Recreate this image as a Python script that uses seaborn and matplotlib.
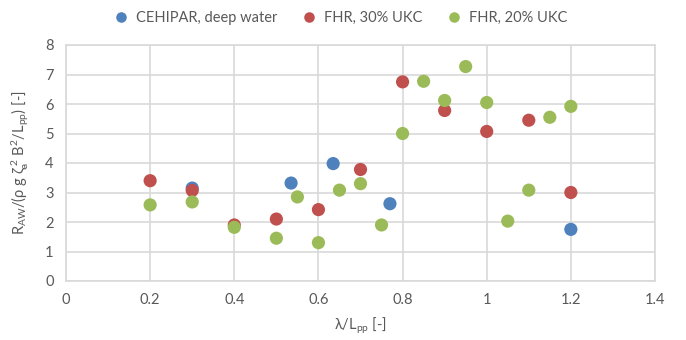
import pandas as pd
import matplotlib.pyplot as plt
import seaborn as sns

# 数据
cehipar_x = [0.3, 0.535, 0.635, 0.77, 1.2]
cehipar_y = [3.15, 3.32, 3.98, 2.62, 1.75]

fhr30_x = [0.2, 0.3, 0.4, 0.5, 0.6, 0.7, 0.8, 0.9, 1.0, 1.1, 1.2]
fhr30_y = [3.4, 3.07, 1.9, 2.1, 2.42, 3.78, 6.75, 5.78, 5.07, 5.45, 3.0]

fhr20_x = [0.2, 0.3, 0.4, 0.5, 0.55, 0.6, 0.65, 0.7, 0.75, 0.8, 0.85, 0.9,
           0.95, 1.0, 1.05, 1.1, 1.15, 1.2]
fhr20_y = [2.58, 2.68, 1.82, 1.45, 2.85, 1.3, 3.08, 3.3, 1.9, 5.0, 6.77, 6.12,
           7.27, 6.05, 2.03, 3.08, 5.55, 5.92]

series_names = ['CEHIPAR, deep water', 'FHR, 30% UKC', 'FHR, 20% UKC']
colors = ['#4F81BD', '#C0504D', '#9BBB59']
x_ticks = [0, 0.2, 0.4, 0.6, 0.8, 1, 1.2, 1.4]
x_tick_labels = ['0', '0.2', '0.4', '0.6', '0.8', '1', '1.2', '1.4']
y_ticks = [0, 1, 2, 3, 4, 5, 6, 7, 8]

df = pd.concat([
    pd.DataFrame({'x': cehipar_x, 'y': cehipar_y, 'series': series_names[0]}),
    pd.DataFrame({'x': fhr30_x, 'y': fhr30_y, 'series': series_names[1]}),
    pd.DataFrame({'x': fhr20_x, 'y': fhr20_y, 'series': series_names[2]}),
])

sns.set_style("white")
plt.rcParams['font.family'] = ['Lato', 'DejaVu Sans']
plt.rcParams['mathtext.fontset'] = 'custom'
plt.rcParams['mathtext.rm'] = 'Lato'
plt.rcParams['mathtext.it'] = 'Lato'

fig = plt.figure(figsize=(6.86, 3.4), dpi=100)
ax = fig.add_axes([66 / 686, 1 - 281 / 340, (655 - 66) / 686, (281 - 45) / 340])

sns.scatterplot(data=df, x='x', y='y', hue='series', palette=colors,
                hue_order=series_names, s=90, edgecolor='none', ax=ax,
                zorder=3, legend=True)

ax.set_xlim(0, 1.4)
ax.set_ylim(0, 8)
ax.set_xticks(x_ticks)
ax.set_xticklabels(x_tick_labels)
ax.set_yticks(y_ticks)
ax.grid(True, color='#D9D9D9', linewidth=1.2)
for s in ax.spines.values():
    s.set_color('#D9D9D9')
    s.set_linewidth(1.2)
ax.tick_params(length=0, colors='#595959', labelsize=10.5, pad=9)

ax.set_xlabel(r'λ/L$_{\mathrm{pp}}$ [-]', color='#595959', fontsize=10.5, labelpad=6)
ax.set_ylabel(r'R$_{\mathrm{AW}}$/(ρ g ζ$_{\mathrm{a}}^{\ 2}$ B$^{2}$/L$_{\mathrm{pp}}$) [-]',
              color='#595959', fontsize=10.5, labelpad=10)

handles, labels = ax.get_legend_handles_labels()
ax.legend(handles, labels, loc='lower center', bbox_to_anchor=(0.46, 1.03),
          ncol=3, frameon=False, fontsize=10.5, handletextpad=0.0,
          columnspacing=1.2, markerscale=0.8, labelcolor='#595959')

plt.savefig('out.png', dpi=100)
